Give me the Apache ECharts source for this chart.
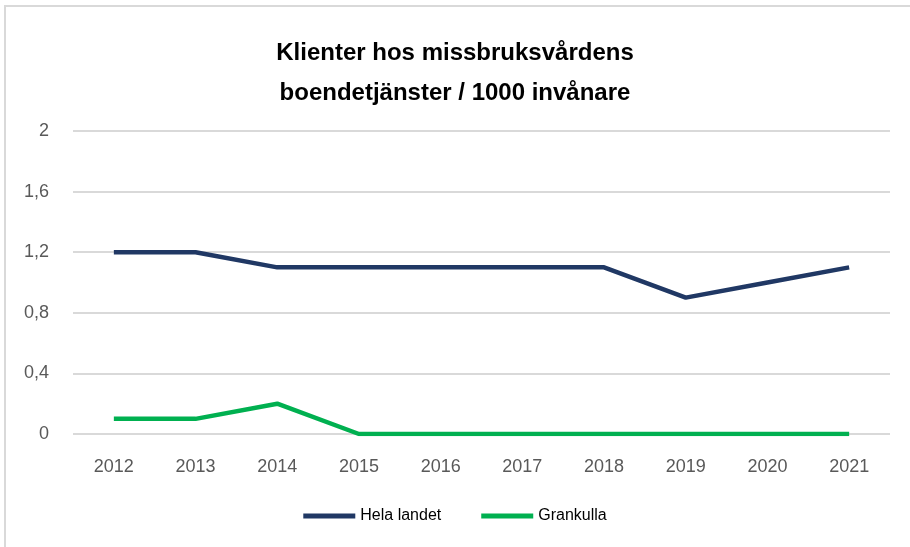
<!DOCTYPE html>
<html>
<head>
<meta charset="utf-8">
<script src="https://cdn.jsdelivr.net/npm/echarts@6/dist/echarts.min.js"></script>
<style>
  html, body { margin: 0; padding: 0; background: #fff; }
  #frame { position: absolute; left: 4px; top: 5px; width: 1000px; height: 1000px; border: 2px solid #d9d9d9; box-sizing: border-box; }
  #main { position: absolute; left: 0; top: 0; width: 910px; height: 547px; }
</style>
</head>
<body>
<div id="frame"></div>
<div id="main"></div>
<script>
var years = ['2012', '2013', '2014', '2015', '2016', '2017', '2018', '2019', '2020', '2021'];
var helaLandet = [1.2, 1.2, 1.1, 1.1, 1.1, 1.1, 1.1, 0.9, 1.0, 1.1];
var grankulla = [0.1, 0.1, 0.2, 0, 0, 0, 0, 0, 0, 0];

var font = '"Liberation Sans Narrow", "Liberation Sans", sans-serif';
var myChart = echarts.init(document.getElementById('main'));

option = {
    title: {
        text: 'Klienter hos missbruksvårdens\nboendetjänster / 1000 invånare',
        left: 'center',
        top: 28,
        textStyle: { fontFamily: font, fontSize: 24, fontWeight: 'bold', color: '#000', lineHeight: 40 }
    },
    legend: {
        bottom: 18,
        left: 'center',
        itemWidth: 52,
        itemHeight: 5,
        itemGap: 40,
        icon: 'rect',
        textStyle: { fontFamily: font, fontSize: 16, color: '#000' },
        data: ['Hela landet', 'Grankulla']
    },
    grid: { left: 73, right: 20, top: 131, bottom: 113, containLabel: false },
    xAxis: {
        type: 'category',
        data: years,
        boundaryGap: true,
        axisLine: { show: false },
        axisTick: { show: false },
        axisLabel: { margin: 24, fontFamily: font, fontSize: 18, color: '#595959' }
    },
    yAxis: {
        type: 'value',
        min: 0,
        max: 2,
        interval: 0.4,
        axisLine: { show: false },
        axisTick: { show: false },
        splitLine: { lineStyle: { color: '#d9d9d9', width: 2 } },
        axisLabel: {
            margin: 24,
            fontFamily: font,
            fontSize: 18,
            color: '#595959',
            formatter: function (v) { return String(Math.round(v * 10) / 10).replace('.', ','); }
        }
    },
    series: [
        {
            name: 'Hela landet',
            type: 'line',
            data: helaLandet,
            symbol: 'none',
            lineStyle: { width: 4.5, color: '#203864' },
            itemStyle: { color: '#203864' }
        },
        {
            name: 'Grankulla',
            type: 'line',
            data: grankulla,
            symbol: 'none',
            lineStyle: { width: 4.5, color: '#00b050' },
            itemStyle: { color: '#00b050' }
        }
    ]
};

myChart.setOption(option);
</script>
</body>
</html>
